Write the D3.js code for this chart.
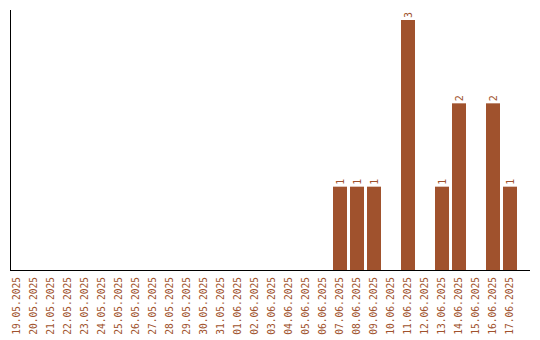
<!DOCTYPE html>
<html>
<head>
<meta charset="utf-8">
<script src="https://cdn.jsdelivr.net/npm/d3@7"></script>
<style>
  body { margin: 0; background: #fff; }
  text { font-family: "DejaVu Sans Mono", monospace; }
</style>
</head>
<body>
<div id="chart"></div>
<script>
const dates = [
    "19.05.2025", "20.05.2025", "21.05.2025", "22.05.2025", "23.05.2025",
    "24.05.2025", "25.05.2025", "26.05.2025", "27.05.2025", "28.05.2025",
    "29.05.2025", "30.05.2025", "31.05.2025", "01.06.2025", "02.06.2025",
    "03.06.2025", "04.06.2025", "05.06.2025", "06.06.2025", "07.06.2025",
    "08.06.2025", "09.06.2025", "10.06.2025", "11.06.2025", "12.06.2025",
    "13.06.2025", "14.06.2025", "15.06.2025", "16.06.2025", "17.06.2025"
];
const counts = [
    0, 0, 0, 0, 0, 0, 0, 0, 0, 0,
    0, 0, 0, 0, 0, 0, 0, 0, 0, 1,
    1, 1, 0, 3, 0, 1, 2, 0, 2, 1
];

const color = "#a0522d";
const width = 540, height = 340;

const svg = d3.select("#chart").append("svg")
    .attr("width", width)
    .attr("height", height);

const data = dates.map((d, i) => ({ date: d, count: counts[i] }));

const x = d3.scaleBand()
    .domain(dates)
    .range([10, 517])
    .paddingInner(3 / 17)
    .paddingOuter(0)
    .align(0);

const y = d3.scaleLinear()
    .domain([0, 3])
    .range([270, 20]);

// bars
svg.selectAll(".bar")
    .data(data.filter(d => d.count > 0))
    .enter()
    .append("rect")
    .attr("class", "bar")
    .attr("x", d => x(d.date))
    .attr("y", d => y(d.count))
    .attr("width", x.bandwidth())
    .attr("height", d => y(0) - y(d.count))
    .attr("fill", color);

// value labels
svg.selectAll(".bar-label")
    .data(data.filter(d => d.count > 0))
    .enter()
    .append("text")
    .attr("class", "bar-label")
    .attr("transform", d => `translate(${x(d.date) + x.bandwidth() / 2},${y(d.count) - 2}) rotate(-90)`)
    .attr("dy", "0.35em")
    .style("font-size", "10px")
    .style("fill", color)
    .text(d => d.count);

// x axis
const xAxis = svg.append("g")
    .attr("transform", "translate(0,270)")
    .call(d3.axisBottom(x).tickSize(0).tickPadding(0));

xAxis.select(".domain")
    .attr("d", "M10,0.5H530")
    .attr("stroke", "#000");

xAxis.selectAll(".tick text")
    .attr("transform", "rotate(-90)")
    .attr("text-anchor", "end")
    .attr("x", -7)
    .attr("y", 0)
    .attr("dy", "0.35em")
    .style("font-family", "DejaVu Sans Mono, monospace")
    .style("font-size", "9.6px")
    .style("fill", color);

// y axis (line only)
const yAxis = svg.append("g")
    .attr("transform", "translate(10,0)")
    .call(d3.axisLeft(y).ticks(0).tickSize(0));

yAxis.select(".domain")
    .attr("d", "M0.5,10V270")
    .attr("stroke", "#000");
</script>
</body>
</html>
